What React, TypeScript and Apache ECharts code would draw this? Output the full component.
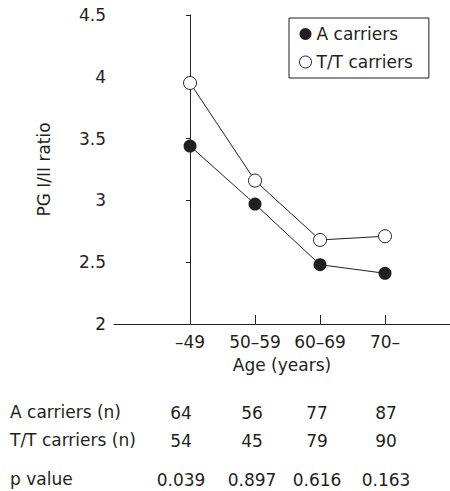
import React, { useEffect, useRef } from "react";
import * as echarts from "echarts";

const categories = ["–49", "50–59", "60–69", "70–"];
const aCarriers = [3.44, 2.97, 2.48, 2.41];
const ttCarriers = [3.95, 3.16, 2.68, 2.71];
const aCarriersN = ["64", "56", "77", "87"];
const ttCarriersN = ["54", "45", "79", "90"];
const pValues = ["0.039", "0.897", "0.616", "0.163"];
const rowLabels = ["A carriers (n)", "T/T carriers (n)", "p value"];
const yTicks = [2, 2.5, 3, 3.5, 4, 4.5];

const FONT = "DejaVu Sans";
const INK = "#231f20";

export default function App() {
  const ref = useRef<HTMLDivElement>(null);
  useEffect(() => {
    if (!ref.current) return;
    const chart = echarts.init(ref.current, undefined, { renderer: "svg" });
    const idx = categories.map((_, i) => i);
    const option: any = {
      animation: false,
      backgroundColor: "#fff",
      textStyle: { fontFamily: FONT, color: INK },
      grid: { left: 114, top: 15, right: 0, bottom: 167 },
      legend: {
        left: 289,
        top: 18,
        orient: "vertical",
        borderColor: INK,
        borderWidth: 1,
        padding: [6, 16, 6, 10],
        itemWidth: 12,
        itemHeight: 12,
        itemGap: 8,
        textStyle: { fontFamily: FONT, fontSize: 17, color: INK, lineHeight: 20 },
        data: [
          { name: "A carriers", icon: "circle", itemStyle: { color: INK, borderWidth: 0 } },
          { name: "T/T carriers", icon: "circle", itemStyle: { color: "#fff", borderColor: INK, borderWidth: 1 } },
        ],
      },
      xAxis: {
        type: "value",
        min: -1.17,
        max: 4,
        name: "Age (years)",
        nameLocation: "middle",
        nameGap: 32,
        nameTextStyle: { fontFamily: FONT, fontSize: 17, color: INK },
        axisLine: { lineStyle: { color: INK, width: 1 } },
        axisTick: { inside: true, length: 9, customValues: idx, lineStyle: { color: INK } },
        axisLabel: {
          customValues: idx,
          margin: 9,
          fontFamily: FONT,
          fontSize: 17,
          color: INK,
          formatter: (v: number) => categories[Math.round(v)] ?? "",
        },
        splitLine: { show: false },
      },
      yAxis: {
        type: "value",
        min: yTicks[0],
        max: yTicks[yTicks.length - 1],
        interval: 0.5,
        name: "PG I/II ratio",
        nameLocation: "middle",
        nameGap: 62,
        nameRotate: 90,
        nameTextStyle: { fontFamily: FONT, fontSize: 17, color: INK },
        axisLine: { show: true, lineStyle: { color: INK, width: 1 } },
        axisTick: { show: true, length: 4, lineStyle: { color: INK } },
        axisLabel: { margin: 8, fontFamily: FONT, fontSize: 17, color: INK, formatter: (v: number) => String(v) },
        splitLine: { show: false },
      },
      series: [
        {
          name: "A carriers",
          type: "line",
          data: aCarriers.map((v, i) => [i, v]),
          symbol: "circle",
          symbolSize: 13,
          itemStyle: { color: INK, borderWidth: 0 },
          lineStyle: { color: INK, width: 1 },
          z: 3,
        },
        {
          name: "T/T carriers",
          type: "line",
          data: ttCarriers.map((v, i) => [i, v]),
          symbol: "circle",
          symbolSize: 13,
          itemStyle: { color: "#fff", borderColor: INK, borderWidth: 1 },
          lineStyle: { color: INK, width: 1 },
          z: 2,
        },
      ],
    };
    chart.setOption(option);

    const rows = [aCarriersN, ttCarriersN, pValues];
    const rowY = [413, 441, 480];
    const colShift = [-9, -3, -3, 1];
    const elements: any[] = [];
    rows.forEach((row, r) => {
      elements.push({
        type: "text",
        left: 10,
        top: rowY[r] - 10,
        style: { text: rowLabels[r], fontFamily: FONT, fontSize: 17, fill: INK },
      });
      row.forEach((val, c) => {
        const px = chart.convertToPixel({ xAxisIndex: 0 }, c) as number;
        elements.push({
          type: "text",
          x: px + colShift[c],
          y: rowY[r],
          style: {
            text: val,
            fontFamily: FONT,
            fontSize: 17,
            fill: INK,
            align: "center",
            verticalAlign: "middle",
          },
        });
      });
    });
    chart.setOption({ graphic: elements });

    return () => chart.dispose();
  }, []);
  return (
    <div
      ref={ref}
      style={{ position: "fixed", left: 0, top: 0, width: 450, height: 491 }}
    />
  );
}
